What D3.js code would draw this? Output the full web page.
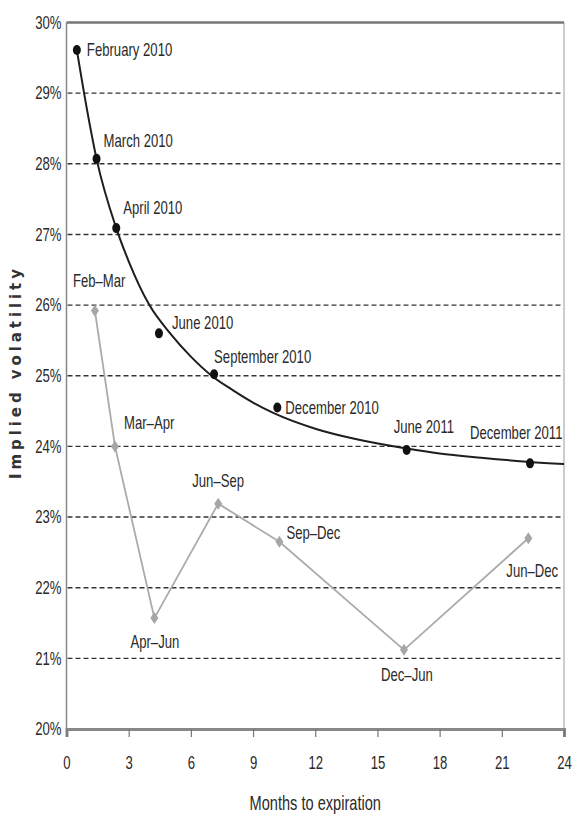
<!DOCTYPE html>
<html>
<head>
<meta charset="utf-8">
<script src="https://cdn.jsdelivr.net/npm/d3@7"></script>
<style>
  html, body { margin: 0; padding: 0; background: #fff; }
  svg { display: block; }
  .lbl { font-family: "Liberation Sans", Arial, sans-serif; font-size: 18px; fill: #2a2a2a; }
</style>
</head>
<body>
<svg id="chart" width="575" height="819"></svg>
<script>
// Term structure of implied volatility by expiration month
const expiries = ["February 2010", "March 2010", "April 2010", "June 2010",
                  "September 2010", "December 2010", "June 2011", "December 2011"];
const expiryMonths = [0.5, 1.45, 2.4, 4.46, 7.12, 10.17, 16.41, 22.36];
const expiryVols   = [29.61, 28.07, 27.09, 25.60, 25.02, 24.55, 23.95, 23.76];

// Fitted term-structure curve
const curveMonths = [0.5, 1.0, 1.45, 2.4, 3.0, 4.0, 5.0, 6.0, 7.0, 8.0, 9.0, 10.0, 12.0, 14.0, 16.4, 18.0, 20.0, 22.36, 24.0];
const curveVols   = [29.61, 28.75, 28.07, 27.09, 26.62, 26.0, 25.6, 25.27, 25.0, 24.8, 24.62, 24.47, 24.25, 24.1, 23.97, 23.9, 23.84, 23.78, 23.75];

// Forward volatilities between consecutive expirations
const forwards      = ["Feb\u2013Mar", "Mar\u2013Apr", "Apr\u2013Jun", "Jun\u2013Sep",
                       "Sep\u2013Dec", "Dec\u2013Jun", "Jun\u2013Dec"];
const forwardMonths = [1.37, 2.34, 4.24, 7.32, 10.27, 16.28, 22.28];
const forwardVols   = [25.92, 24.0, 21.57, 23.19, 22.65, 21.12, 22.70];

// Axis ticks
const xTicks = [0, 3, 6, 9, 12, 15, 18, 21, 24];
const yTicks = [20, 21, 22, 23, 24, 25, 26, 27, 28, 29, 30];
const xTitle = "Months to expiration";
const yTitle = "Implied volatility";

// Label placement relative to each marker (dx, dy in px)
const expiryLabelOffsets = [[10, 0], [7, -18], [7, -20], [13, -11], [0, -18], [8, 0], [-13, -23], [-60, -31]];
const forwardLabelOffsets = [[-22, -30], [9, -24], [-24, 24], [-26, -23], [7, -9], [-23, 25], [-22, 32]];

const svg = d3.select("#chart");
const x = d3.scaleLinear().domain([0, 24]).range([66.5, 564]);
const y = d3.scaleLinear().domain([20, 30]).range([729, 22.5]);

// Narrow lettering: squeeze each label horizontally around its anchor
const SQUEEZE = 0.73;
function condense(sel) {
  sel.each(function () {
    const t = d3.select(this);
    const tx = +t.attr("x") || 0, ty = +t.attr("y") || 0;
    t.attr("x", 0).attr("y", 0).attr("transform", `translate(${tx},${ty}) scale(${SQUEEZE},1)`);
  });
}

// Dashed horizontal gridlines
svg.append("g").selectAll("line")
  .data(yTicks.filter(t => t > 20 && t < 30))
  .join("line")
  .attr("x1", x(0) + 1).attr("x2", x(24) - 1)
  .attr("y1", d => y(d)).attr("y2", d => y(d))
  .attr("stroke", "#333").attr("stroke-width", 1.4)
  .attr("stroke-dasharray", "5,3");

// Frame: left axis, right edge, top border
svg.append("line").attr("x1", x(0)).attr("x2", x(0)).attr("y1", y(30)).attr("y2", y(20))
  .attr("stroke", "#888").attr("stroke-width", 1.5);
svg.append("line").attr("x1", x(24)).attr("x2", x(24)).attr("y1", y(30)).attr("y2", y(20))
  .attr("stroke", "#999").attr("stroke-width", 1);
svg.append("line").attr("x1", x(0)).attr("x2", x(24)).attr("y1", y(30)).attr("y2", y(30))
  .attr("stroke", "#777").attr("stroke-width", 2.5);

// Bottom axis
const xAxis = svg.append("g").attr("transform", `translate(0,${y(20)})`)
  .call(d3.axisBottom(x).tickValues(xTicks).tickSize(8).tickPadding(19).tickFormat(d3.format("d")));
xAxis.select(".domain").attr("stroke", "#888").attr("stroke-width", 3);
xAxis.selectAll(".tick line").attr("stroke", "#777").attr("stroke-width", 1.2);
xAxis.selectAll(".tick text").attr("class", "lbl").attr("font-size", null).attr("font-family", null).attr("fill", null)
  .call(condense);

// Left tick labels
const yAxis = svg.append("g").attr("transform", `translate(${x(0)},0)`)
  .call(d3.axisLeft(y).tickValues(yTicks).tickSize(0).tickPadding(5).tickFormat(d => d + "%"));
yAxis.select(".domain").remove();
yAxis.selectAll(".tick text").attr("class", "lbl").attr("font-size", null).attr("font-family", null).attr("fill", null)
  .call(condense);

// Axis titles
svg.append("text").attr("class", "lbl")
  .attr("x", (x(0) + x(24)) / 2).attr("y", 810).attr("text-anchor", "middle")
  .style("font-size", "20px")
  .text(xTitle)
  .call(condense);
svg.append("text")
  .attr("transform", `translate(21,${374}) rotate(-90)`)
  .attr("text-anchor", "middle")
  .attr("font-family", "DejaVu Sans, sans-serif").attr("font-size", 15).attr("font-weight", "bold")
  .attr("textLength", 210).attr("lengthAdjust", "spacing")
  .attr("fill", "#333")
  .text(yTitle);

// Forward volatility line with diamonds
const fwd = forwards.map((name, i) => ({ name, m: forwardMonths[i], v: forwardVols[i], off: forwardLabelOffsets[i] }));
svg.append("path").datum(fwd)
  .attr("fill", "none").attr("stroke", "#ababab").attr("stroke-width", 1.8)
  .attr("d", d3.line().x(d => x(d.m)).y(d => y(d.v)));
svg.append("g").selectAll("path")
  .data(fwd).join("path")
  .attr("transform", d => `translate(${x(d.m)},${y(d.v)})`)
  .attr("d", "M0,-6L4,0L0,6L-4,0Z")
  .attr("fill", "#a6a6a6");
svg.append("g").selectAll("text")
  .data(fwd).join("text").attr("class", "lbl")
  .attr("x", d => x(d.m) + d.off[0]).attr("y", d => y(d.v) + d.off[1])
  .attr("dy", "0.35em")
  .text(d => d.name)
  .call(condense);

// Fitted term-structure curve
const curvePts = curveMonths.map((m, i) => ({ m, v: curveVols[i] }));
svg.append("path").datum(curvePts)
  .attr("fill", "none").attr("stroke", "#1e1e1e").attr("stroke-width", 2)
  .attr("d", d3.line().curve(d3.curveMonotoneX).x(d => x(d.m)).y(d => y(d.v)));

// Expiration points
const exp = expiries.map((name, i) => ({ name, m: expiryMonths[i], v: expiryVols[i], off: expiryLabelOffsets[i] }));
svg.append("g").selectAll("ellipse")
  .data(exp).join("ellipse")
  .attr("cx", d => x(d.m)).attr("cy", d => y(d.v))
  .attr("rx", 4).attr("ry", 5)
  .attr("fill", "#111");
svg.append("g").selectAll("text")
  .data(exp).join("text").attr("class", "lbl")
  .attr("x", d => x(d.m) + d.off[0]).attr("y", d => y(d.v) + d.off[1])
  .attr("dy", "0.35em")
  .text(d => d.name)
  .call(condense);
</script>
</body>
</html>
